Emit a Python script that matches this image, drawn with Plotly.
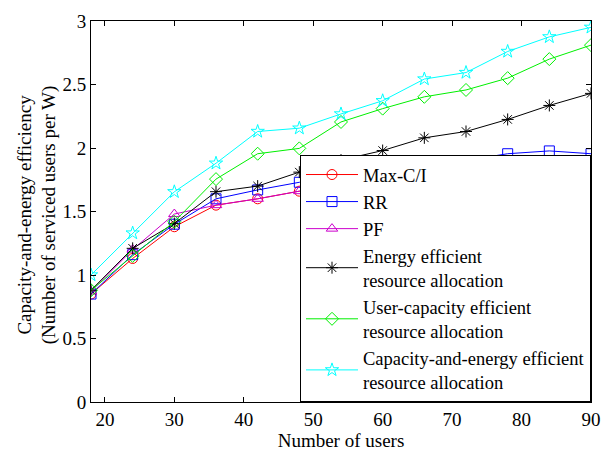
import plotly.graph_objects as go

users = [18, 24, 30, 36, 42, 48, 54, 60, 66, 72, 78, 84, 90]
max_ci = [0.85, 1.13, 1.38, 1.55, 1.60, 1.66, 1.69, 1.70, 1.70, 1.75, 1.75, 1.80, 1.83]
rr = [0.85, 1.16, 1.40, 1.60, 1.67, 1.73, 1.755, 1.81, 1.85, 1.90, 1.955, 1.977, 1.955]
pf = [0.87, 1.20, 1.48, 1.55, 1.60, 1.66, 1.69, 1.70, 1.755, 1.80, 1.80, 1.80, 1.85]
energy = [0.88, 1.21, 1.405, 1.656, 1.70, 1.81, 1.905, 1.98, 2.08, 2.13, 2.225, 2.335, 2.43]
user_cap = [0.88, 1.15, 1.42, 1.755, 1.955, 1.997, 2.205, 2.31, 2.403, 2.457, 2.55, 2.70, 2.81]
cap_energy = [1.00, 1.33, 1.655, 1.88, 2.13, 2.156, 2.268, 2.372, 2.543, 2.594, 2.76, 2.875, 2.95]

series = [
    ("Max-C/I", max_ci, "#ff0000", "circle-open"),
    ("RR", rr, "#0000ff", "square-open"),
    ("PF", pf, "#cc00cc", "triangle-up-open"),
    ("Energy efficient<br>resource allocation", energy, "#000000", "asterisk-open"),
    ("User-capacity efficient<br>resource allocation", user_cap, "#00f000", "diamond-open"),
    ("Capacity-and-energy efficient<br>resource allocation", cap_energy, "#00ffff", "star-open"),
]

fig = go.Figure()
for i, (name, vals, color, sym) in enumerate(series):
    fig.add_trace(go.Scatter(
        x=users, y=vals, name=name, mode="lines+markers",
        line=dict(color=color, width=1),
        marker=dict(symbol=sym, size=10, color=color, line=dict(color=color, width=1)),
        legendgroup=f"g{i}",
    ))

font_family = "Liberation Serif"
fs = 19
fig.update_layout(
    width=613, height=454,
    margin=dict(l=91, r=22, t=11, b=51),
    paper_bgcolor="white", plot_bgcolor="white",
    font=dict(family=font_family, size=fs, color="black"),
    showlegend=True,
    legend=dict(
        x=1, y=0, xanchor="right", yanchor="bottom",
        bgcolor="white", bordercolor="black", borderwidth=1,
        font=dict(family=font_family, size=18.5, color="black"),
        tracegroupgap=0, itemwidth=52,
    ),
    xaxis=dict(
        range=[18, 90], tickvals=[20, 30, 40, 50, 60, 70, 80, 90],
        ticks="inside", ticklen=5, tickcolor="black",
        showline=True, linecolor="black", linewidth=1, mirror="ticks",
        showgrid=False, zeroline=False,
        tickfont=dict(family=font_family, size=fs),
        title=dict(text="Number of users", standoff=0, font=dict(family=font_family, size=fs)),
    ),
    yaxis=dict(
        range=[0, 3], tickvals=[0, 0.5, 1, 1.5, 2, 2.5, 3],
        ticktext=["0", "0.5", "1", "1.5", "2", "2.5", "3"],
        ticks="inside", ticklen=5, tickcolor="black",
        showline=True, linecolor="black", linewidth=1, mirror="ticks",
        showgrid=False, zeroline=False,
        tickfont=dict(family=font_family, size=fs),
    ),
    annotations=[dict(
        text="Capacity-and-energy efficiency<br>(Number of serviced users per W)",
        xref="paper", yref="paper", x=-0.108, y=0.49,
        xanchor="center", yanchor="middle", textangle=-90, showarrow=False,
        font=dict(family=font_family, size=fs, color="black"),
    )],
)

fig.write_html("out.html")
